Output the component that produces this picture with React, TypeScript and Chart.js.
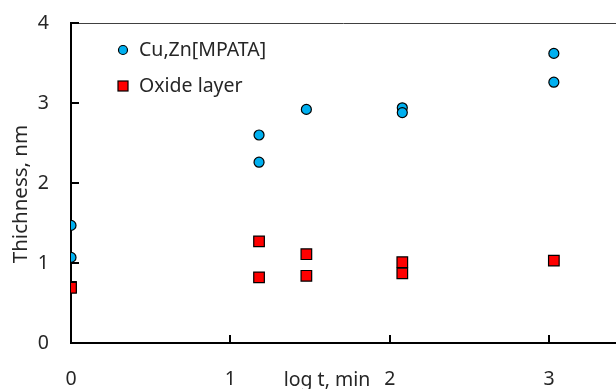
import React, { useEffect, useRef } from "react";
import { Chart, registerables } from "chart.js";

Chart.register(...registerables);

const cuX = [0, 0, 1.18, 1.18, 1.477, 2.079, 2.079, 3.03, 3.03];
const cuY = [1.47, 1.07, 2.6, 2.26, 2.92, 2.94, 2.88, 3.62, 3.26];
const oxX = [0, 0, 1.18, 1.18, 1.477, 1.477, 2.079, 2.079, 3.03];
const oxY = [0.7, 0.69, 1.27, 0.82, 1.11, 0.84, 1.01, 0.87, 1.03];
const seriesNames = ["Cu,Zn[MPATA]", "Oxide layer"];
const xTitle = "log t, min";
const yTitle = "Thichness, nm";
const xTicks = [0, 1, 2, 3];
const yTicks = [0, 1, 2, 3, 4];

const FONT = "'Noto Sans', 'Open Sans', sans-serif";
const BLUE = "#00B0F0";
const RED = "#FF0000";

const decorPlugin = {
  id: "decor",
  afterDraw(chart: any) {
    const { ctx, chartArea, scales } = chart;
    const xs = scales.x;
    const ys = scales.y;
    ctx.save();
    // top frame line
    ctx.strokeStyle = "#404040";
    ctx.lineWidth = 1;
    ctx.beginPath();
    ctx.moveTo(chartArea.left, chartArea.top + 0.5);
    ctx.lineTo(chartArea.right, chartArea.top + 0.5);
    ctx.stroke();
    // inside tick marks
    ctx.strokeStyle = "#000";
    ctx.lineWidth = 2;
    ctx.beginPath();
    for (const v of yTicks) {
      const py = Math.round(ys.getPixelForValue(v));
      ctx.moveTo(chartArea.left, py);
      ctx.lineTo(chartArea.left + 8, py);
    }
    for (const v of xTicks) {
      const px = Math.round(xs.getPixelForValue(v));
      ctx.moveTo(px, chartArea.bottom);
      ctx.lineTo(px, chartArea.bottom - 8);
    }
    ctx.stroke();
    // axis titles
    ctx.fillStyle = "#262626";
    ctx.font = `19.5px ${FONT}`;
    ctx.textAlign = "center";
    ctx.textBaseline = "middle";
    ctx.fillText(xTitle, 327, 380);
    ctx.save();
    ctx.translate(21, 194);
    ctx.rotate(-Math.PI / 2);
    ctx.font = `20.5px ${FONT}`;
    ctx.fillText(yTitle, 0, 0);
    ctx.restore();
    // legend
    ctx.textAlign = "left";
    ctx.lineWidth = 1.2;
    ctx.strokeStyle = "#000";
    ctx.fillStyle = BLUE;
    ctx.beginPath();
    ctx.arc(123, 50, 4.5, 0, Math.PI * 2);
    ctx.fill();
    ctx.stroke();
    ctx.fillStyle = RED;
    ctx.fillRect(118, 81, 10, 10);
    ctx.strokeRect(118, 81, 10, 10);
    ctx.fillStyle = "#262626";
    ctx.fillText(seriesNames[0], 139, 50);
    ctx.fillText(seriesNames[1], 139, 86);
    ctx.restore();
  },
};

const zeroPad = (s: any) => {
  s.paddingTop = 0;
  s.paddingBottom = 0;
  s.paddingLeft = 0;
  s.paddingRight = 0;
};

export default function App() {
  const ref = useRef<HTMLCanvasElement>(null);
  useEffect(() => {
    if (!ref.current) return;
    const chart = new Chart(ref.current, {
      type: "scatter",
      data: {
        datasets: [
          {
            label: seriesNames[0],
            data: cuX.map((x, i) => ({ x, y: cuY[i] })),
            pointStyle: "circle",
            pointRadius: 5,
            pointBackgroundColor: BLUE,
            pointBorderColor: "#000",
            pointBorderWidth: 1.2,
          },
          {
            label: seriesNames[1],
            data: oxX.map((x, i) => ({ x, y: oxY[i] })),
            pointStyle: "rect",
            pointRadius: 7.5,
            pointBackgroundColor: RED,
            pointBorderColor: "#000",
            pointBorderWidth: 1.2,
          },
        ],
      },
      options: {
        responsive: false,
        animation: false,
        devicePixelRatio: 1,
        layout: { autoPadding: false, padding: { top: 23, left: 0, right: 0, bottom: 0 } },
        plugins: { legend: { display: false }, tooltip: { enabled: false } },
        scales: {
          x: {
            type: "linear",
            min: 0,
            max: 3.42,
            grid: { display: false },
            border: { display: true, color: "#000", width: 2 },
            ticks: {
              stepSize: 1,
              includeBounds: false,
              padding: 17,
              color: "#262626",
              font: { family: FONT, size: 19.5 },
            },
            afterFit: (s: any) => {
              s.height = 46;
              zeroPad(s);
            },
          },
          y: {
            type: "linear",
            min: 0,
            max: 4,
            grid: { display: false },
            border: { display: true, color: "#000", width: 2 },
            ticks: {
              stepSize: 1,
              padding: 14,
              color: "#262626",
              font: { family: FONT, size: 19.5 },
            },
            afterFit: (s: any) => {
              s.width = 71;
              zeroPad(s);
            },
          },
        },
      },
      plugins: [decorPlugin],
    });
    return () => chart.destroy();
  }, []);
  return (
    <canvas
      ref={ref}
      width={616}
      height={389}
      style={{ position: "fixed", left: 0, top: 0, width: 616, height: 389 }}
    />
  );
}
